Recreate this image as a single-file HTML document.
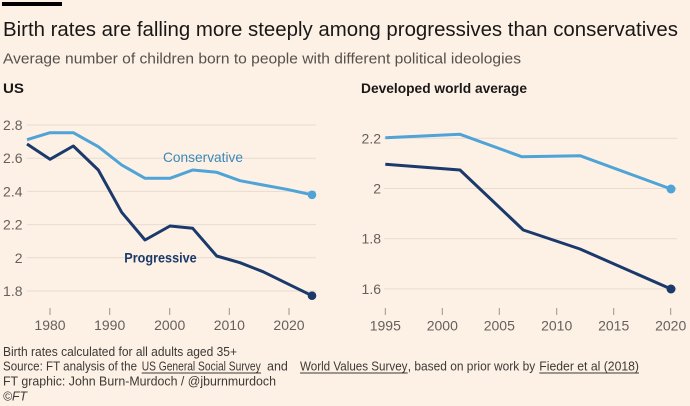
<!DOCTYPE html>
<html>
<head>
<meta charset="utf-8">
<style>
html,body{margin:0;padding:0;background:#fdf1e6;}
svg{display:block;}
text{font-family:"Liberation Sans",sans-serif;}
</style>
</head>
<body>
<svg width="690" height="406" viewBox="0 0 690 406" xmlns="http://www.w3.org/2000/svg">
<rect x="0" y="0" width="690" height="406" fill="#fdf1e6"/>
<rect x="2" y="2" width="60" height="4" fill="#000"/>
<text x="3" y="36" font-size="20" fill="#1a1817" textLength="675" lengthAdjust="spacingAndGlyphs">Birth rates are falling more steeply among progressives than conservatives</text>
<text x="3" y="63.5" font-size="15" fill="#55504c" textLength="518" lengthAdjust="spacingAndGlyphs">Average number of children born to people with different political ideologies</text>

<text x="3" y="93" font-size="14" font-weight="bold" fill="#1a1817" textLength="21" lengthAdjust="spacingAndGlyphs">US</text>
<text x="361" y="93" font-size="14" font-weight="bold" fill="#1a1817" textLength="166" lengthAdjust="spacingAndGlyphs">Developed world average</text>

<!-- Left grid -->
<g stroke="#e8dcd1" stroke-width="1">
<line x1="27" y1="125" x2="316" y2="125"/>
<line x1="27" y1="158.2" x2="316" y2="158.2"/>
<line x1="27" y1="191.4" x2="316" y2="191.4"/>
<line x1="27" y1="224.6" x2="316" y2="224.6"/>
<line x1="27" y1="257.8" x2="316" y2="257.8"/>
<line x1="27" y1="291" x2="316" y2="291"/>
</g>
<g font-size="14" fill="#66605c" text-anchor="end">
<text x="22.5" y="130">2.8</text>
<text x="22.5" y="163.2">2.6</text>
<text x="22.5" y="196.4">2.4</text>
<text x="22.5" y="229.6">2.2</text>
<text x="22.5" y="262.8">2</text>
<text x="22.5" y="296">1.8</text>
</g>
<g stroke="#9a948f" stroke-width="1">
<line x1="50" y1="308" x2="50" y2="315"/>
<line x1="109.7" y1="308" x2="109.7" y2="315"/>
<line x1="169.7" y1="308" x2="169.7" y2="315"/>
<line x1="229.3" y1="308" x2="229.3" y2="315"/>
<line x1="289" y1="308" x2="289" y2="315"/>
</g>
<g font-size="14" fill="#66605c" text-anchor="middle">
<text x="50" y="330">1980</text>
<text x="109.7" y="330">1990</text>
<text x="169.7" y="330">2000</text>
<text x="229.3" y="330">2010</text>
<text x="289" y="330">2020</text>
</g>

<polyline fill="none" stroke="#4fa3d6" stroke-width="3" stroke-linejoin="round" points="27,139.7 50,132.7 73.3,132.7 98.3,146.7 121.7,165 145,178.3 170,178.3 192.7,170 216.7,172.3 240,180.7 263,185 286.7,189.3 312,194.8"/>
<circle cx="312" cy="194.8" r="4.3" fill="#4fa3d6"/>
<polyline fill="none" stroke="#1b3a6b" stroke-width="3" stroke-linejoin="round" points="27,144 50,159.3 73.3,146 98.3,170 121.7,212.3 145,240 170,226 192.7,228.3 216.7,256 240,262.7 263,271.7 286.7,283.3 312,295.7"/>
<circle cx="312" cy="295.7" r="4.3" fill="#1b3a6b"/>

<text x="163" y="162" font-size="14" fill="#3a88b8" textLength="80" lengthAdjust="spacingAndGlyphs">Conservative</text>
<text x="124.3" y="262.5" font-size="14" font-weight="bold" fill="#1b3a6b" textLength="72.4" lengthAdjust="spacingAndGlyphs">Progressive</text>

<!-- Right grid -->
<g stroke="#e8dcd1" stroke-width="1">
<line x1="384" y1="138.3" x2="677" y2="138.3"/>
<line x1="384" y1="188.5" x2="677" y2="188.5"/>
<line x1="384" y1="238.7" x2="677" y2="238.7"/>
<line x1="384" y1="288.9" x2="677" y2="288.9"/>
</g>
<g font-size="14" fill="#66605c" text-anchor="end">
<text x="381" y="143.3">2.2</text>
<text x="381" y="193.5">2</text>
<text x="381" y="243.7">1.8</text>
<text x="381" y="293.9">1.6</text>
</g>
<g stroke="#9a948f" stroke-width="1">
<line x1="385.3" y1="308" x2="385.3" y2="315"/>
<line x1="442.3" y1="308" x2="442.3" y2="315"/>
<line x1="499.3" y1="308" x2="499.3" y2="315"/>
<line x1="556.7" y1="308" x2="556.7" y2="315"/>
<line x1="613.7" y1="308" x2="613.7" y2="315"/>
<line x1="670.7" y1="308" x2="670.7" y2="315"/>
</g>
<g font-size="14" fill="#66605c" text-anchor="middle">
<text x="385.3" y="330.5">1995</text>
<text x="442.3" y="330.5">2000</text>
<text x="499.3" y="330.5">2005</text>
<text x="556.7" y="330.5">2010</text>
<text x="613.7" y="330.5">2015</text>
<text x="670.7" y="330.5">2020</text>
</g>

<polyline fill="none" stroke="#4fa3d6" stroke-width="3" stroke-linejoin="round" points="385.3,137.7 460,134.3 521.7,156.7 580,155.7 671,189"/>
<circle cx="671" cy="189" r="4.5" fill="#4fa3d6"/>
<polyline fill="none" stroke="#1b3a6b" stroke-width="3" stroke-linejoin="round" points="385.3,164.3 460,170 523.3,230 580,249 671,289"/>
<circle cx="671" cy="289" r="4.5" fill="#1b3a6b"/>

<!-- Footer -->
<g font-size="12.5" fill="#3d3935">
<text x="3" y="356" textLength="234" lengthAdjust="spacingAndGlyphs">Birth rates calculated for all adults aged 35+</text>
<text x="3" y="370.5" textLength="134" lengthAdjust="spacingAndGlyphs">Source: FT analysis of the</text>
<text x="141.7" y="370.5" textLength="119" lengthAdjust="spacingAndGlyphs">US General Social Survey</text>
<text x="267" y="370.5">and</text>
<text x="300" y="370.5" textLength="107.5" lengthAdjust="spacingAndGlyphs">World Values Survey</text>
<text x="407.7" y="370.5" textLength="127.5" lengthAdjust="spacingAndGlyphs">, based on prior work by</text>
<text x="539.3" y="370.5" textLength="99.7" lengthAdjust="spacingAndGlyphs">Fieder et al (2018)</text>
<text x="3" y="385.5" textLength="273" lengthAdjust="spacingAndGlyphs">FT graphic: John Burn-Murdoch / @jburnmurdoch</text>
<text x="3" y="400.5" font-style="italic" textLength="24" lengthAdjust="spacingAndGlyphs">©FT</text>
</g>
<g stroke="#3d3935" stroke-width="0.9">
<line x1="141.7" y1="373" x2="261" y2="373"/>
<line x1="300" y1="373" x2="407.7" y2="373"/>
<line x1="539.3" y1="373" x2="639" y2="373"/>
</g>
</svg>
</body>
</html>
